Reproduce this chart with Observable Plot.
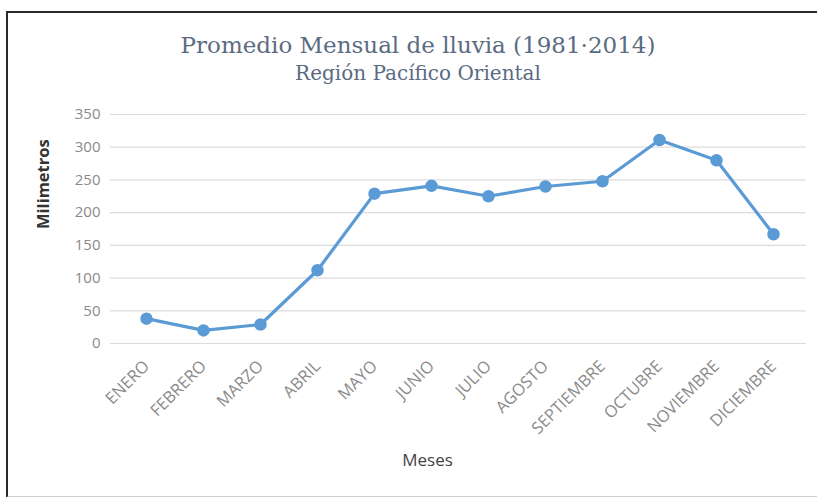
<!DOCTYPE html>
<html>
<head>
<meta charset="utf-8">
<script src="https://cdn.jsdelivr.net/npm/d3@7"></script>
<script src="https://cdn.jsdelivr.net/npm/@observablehq/plot@0.6"></script>
<style>
  body { margin: 0; background: #fff; }
  #wrap { position: relative; width: 817px; height: 497px; overflow: hidden; background: #fff; }
  #frame { position: absolute; left: 6px; top: 11px; width: 900px; height: 483px;
           border: 2px solid #2a2a2a; border-bottom-color: #cfcfcf; pointer-events: none; z-index: 2; }
  .ttl { position: absolute; left: 0; width: 836px; text-align: center;
         font-family: "DejaVu Serif", serif; color: #5b6b82; z-index: 1; white-space: nowrap; }
  #t1 { top: 32px; font-size: 23px; }
  #t2 { top: 61px; font-size: 20px; }
  #chart { position: absolute; left: 0; top: 0; }
</style>
</head>
<body>
<div id="wrap">
  <div id="chart"></div>
  <div class="ttl" id="t1">Promedio Mensual de lluvia (1981·2014)</div>
  <div class="ttl" id="t2">Región Pacífico Oriental</div>
  <div id="frame"></div>
</div>
<script>
// Average monthly rainfall, Eastern Pacific region (1981–2014), in millimetres
const months = ["ENERO", "FEBRERO", "MARZO", "ABRIL", "MAYO", "JUNIO",
                "JULIO", "AGOSTO", "SEPTIEMBRE", "OCTUBRE", "NOVIEMBRE", "DICIEMBRE"];
const rainfall = [38, 20, 29, 112, 229, 241, 225, 240, 248, 311, 280, 167];
const yTicks = [0, 50, 100, 150, 200, 250, 300, 350];

const data = months.map((m, i) => ({month: m, mm: rainfall[i]}));
const blue = "#5b9bd5";

const chart = Plot.plot({
  width: 817,
  height: 497,
  marginLeft: 114,
  marginRight: 13,
  marginTop: 114,
  marginBottom: 154,
  style: {background: "transparent", fontFamily: "Open Sans", fontSize: "15px"},
  x: {type: "point", domain: months, padding: 0.5},
  y: {domain: [0, 350]},
  marks: [
    Plot.ruleY(yTicks, {stroke: "#dcdcdc", strokeWidth: 1.2, insetLeft: -4, insetRight: -2}),
    Plot.axisY(yTicks, {tickSize: 0, tickPadding: 14, label: null, color: "#8a8a8a", fontSize: 15}),
    Plot.axisX({tickSize: 0, tickPadding: 20, tickRotate: -45, label: null, color: "#8a8a8a", fontSize: 16.5}),
    Plot.line(data, {x: "month", y: "mm", stroke: blue, strokeWidth: 3.2}),
    Plot.dot(data, {x: "month", y: "mm", r: 5.5, fill: blue, stroke: blue}),
    Plot.text(["Milimetros"], {frameAnchor: "left", dx: -71, rotate: -90, fontWeight: "bold",
                               fontSize: 16.5, fill: "#333"}),
    Plot.text(["Meses"], {frameAnchor: "bottom", dx: -32, dy: 122, fontSize: 17, fill: "#444"})
  ]
});
document.getElementById("chart").appendChild(chart);
</script>
</body>
</html>
